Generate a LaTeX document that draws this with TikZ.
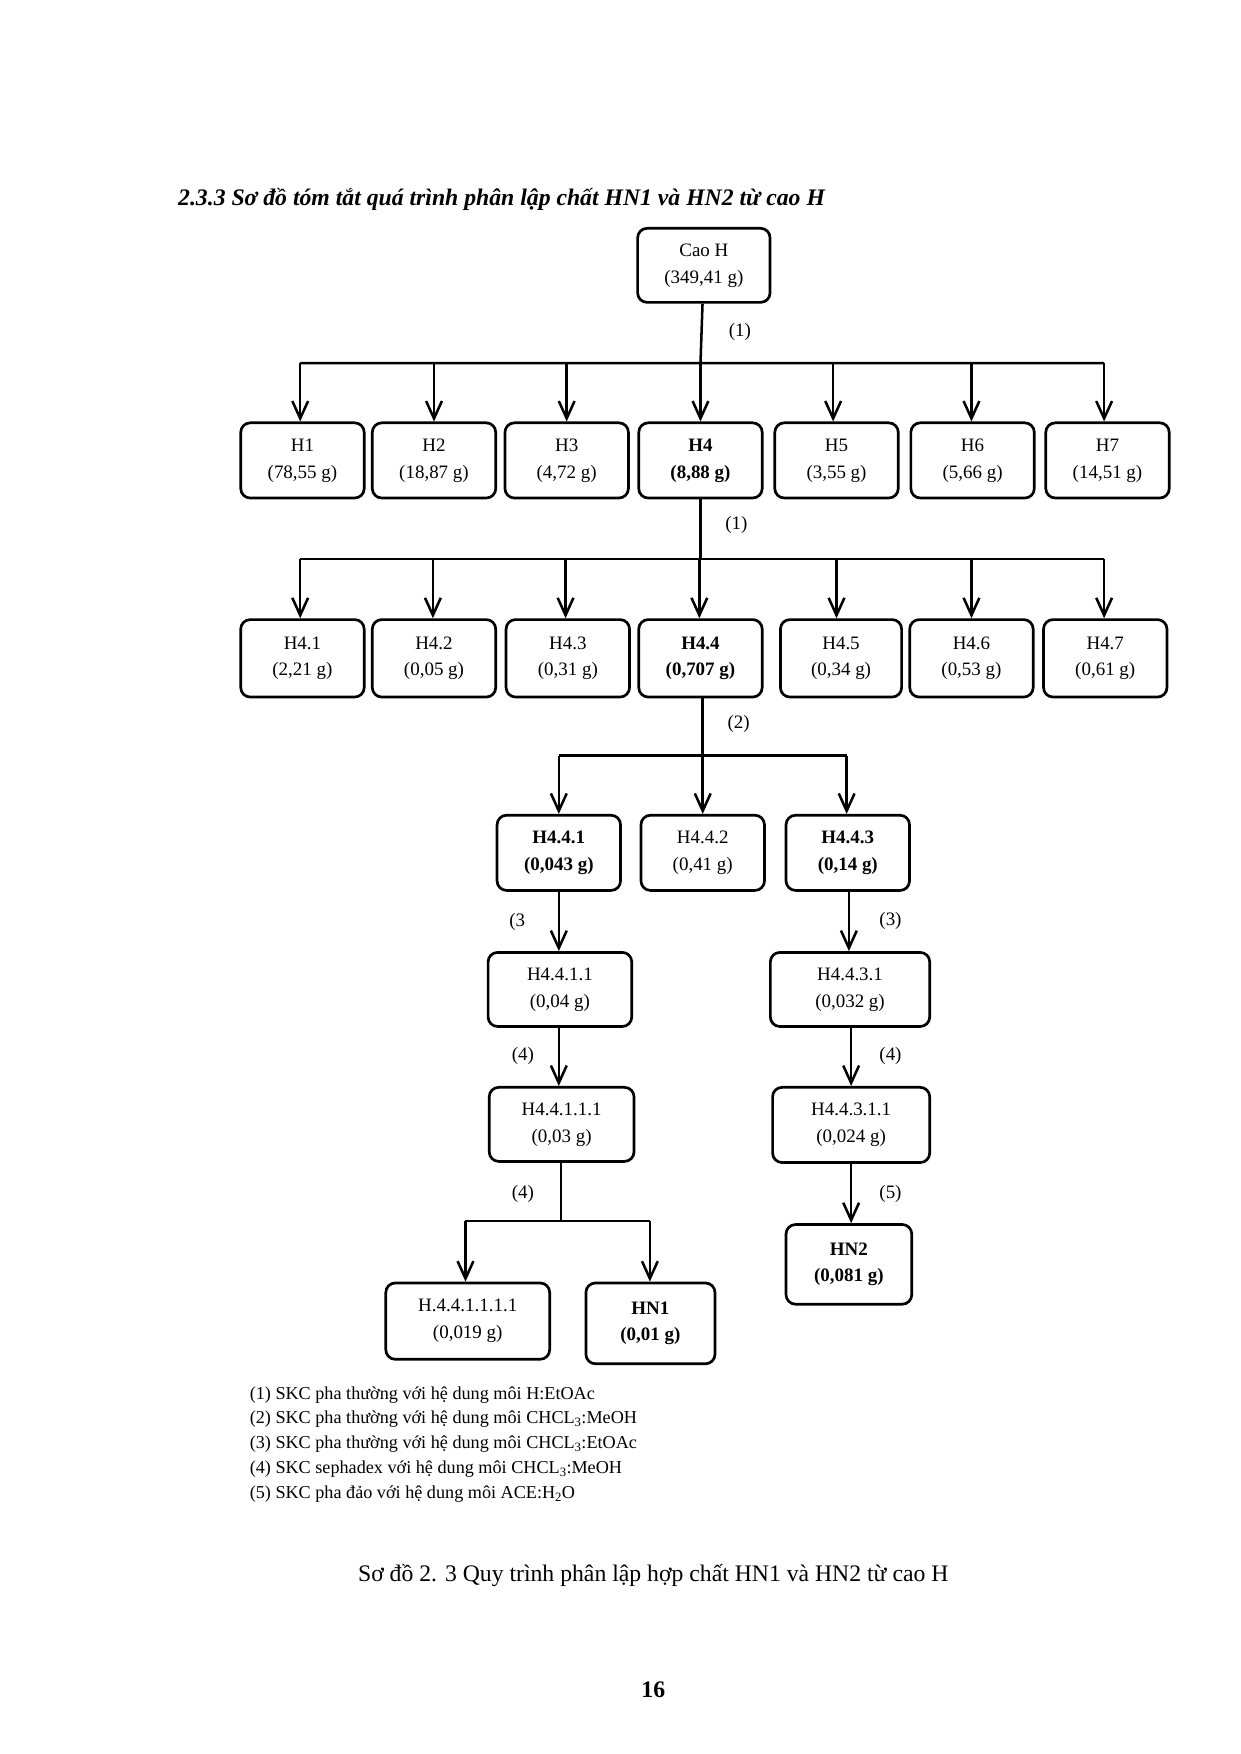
\documentclass[tikz,border=0pt]{standalone}
\usepackage{fontspec}
\setmainfont{Liberation Serif}
\usetikzlibrary{arrows.meta}
\newcommand{\bx}[6]{\node[box,minimum width={(#3-#2)*1.42pt},minimum height={(#5-#4)*1.42pt}] (#1) at ({(#2+#3)/2},{(#4+#5)/2}) {#6};}
\begin{document}
\begin{tikzpicture}[x=0.05cm,y=-0.05cm,
  box/.style={draw,line width=3.4pt,rounded corners=12pt,align=center,inner sep=0pt,font=\fontsize{24}{34}\selectfont},
  ln/.style={line width=3.2pt},
  ar/.style={ln,-{Straight Barb[length=22pt,width=20pt,line width=3.2pt]}},
  lb/.style={font=\fontsize{24}{30}\selectfont}]
\useasboundingbox (0,0) rectangle (1103,1560);
\node[anchor=west,font=\fontsize{30}{36}\selectfont\bfseries\itshape] (title) at (156,177) {2.3.3 Sơ đồ tóm tắt quá trình phân lập chất HN1 và HN2 từ cao H};
\bx{cao}{567}{685}{203}{269}{Cao H\\(349,41 g)}
\bx{h1}{214}{324}{376}{443}{H1\\(78,55 g)}
\bx{h2}{331}{441}{376}{443}{H2\\(18,87 g)}
\bx{h3}{449}{559}{376}{443}{H3\\(4,72 g)}
\bx{h4}{568}{678}{376}{443}{\textbf{H4}\\\textbf{(8,88 g)}}
\bx{h5}{689}{799}{376}{443}{H5\\(3,55 g)}
\bx{h6}{810}{920}{376}{443}{H6\\(5,66 g)}
\bx{h7}{930}{1040}{376}{443}{H7\\(14,51 g)}
\coordinate (b1) at (623,323);
\draw[ln] (cao) -- (b1) (267,323) -- (982,323);
\node[lb] (l1) at (658,295) {(1)};
\foreach \n/\x in {h1/267,h2/386,h3/504,h4/623,h5/741,h6/864,h7/982}{\coordinate (t\n) at (\x,323); \draw[ar] (t\n) -- (\n.north -| t\n);}
\bx{a1}{214}{324}{551}{620}{H4.1\\(2,21 g)}
\bx{a2}{331}{441}{551}{620}{H4.2\\(0,05 g)}
\bx{a3}{450}{560}{551}{620}{H4.3\\(0,31 g)}
\bx{a4}{568}{678}{551}{620}{\textbf{H4.4}\\\textbf{(0,707 g)}}
\bx{a5}{694}{802}{551}{620}{H4.5\\(0,34 g)}
\bx{a6}{809}{919}{551}{620}{H4.6\\(0,53 g)}
\bx{a7}{928}{1038}{551}{620}{H4.7\\(0,61 g)}
\coordinate (b2) at (623,497);
\draw[ln] (h4) -- (b2) (267,497) -- (982,497);
\node[lb] (l2) at (655,467) {(1)};
\foreach \n/\x in {a1/267,a2/385,a3/503,a4/622,a5/744,a6/864,a7/982}{\coordinate (t\n) at (\x,497); \draw[ar] (t\n) -- (\n.north -| t\n);}
\bx{c1}{442}{552}{725}{792}{\textbf{H4.4.1}\\\textbf{(0,043 g)}}
\bx{c2}{570}{680}{725}{792}{H4.4.2\\(0,41 g)}
\bx{c3}{699}{809}{725}{792}{\textbf{H4.4.3}\\\textbf{(0,14 g)}}
\coordinate (b3) at (625,672);
\draw[ln] (a4.south -| b3) -- (b3) (497,672) -- (753,672);
\node[lb] (l3) at (657,644) {(2)};
\foreach \n/\x in {c1/497,c2/625,c3/753}{\coordinate (t\n) at (\x,672); \draw[ar] (t\n) -- (\n.north -| t\n);}
\bx{d1}{434}{562}{847}{913}{H4.4.1.1\\(0,04 g)}
\bx{d2}{435}{564}{967}{1033}{H4.4.1.1.1\\(0,03 g)}
\bx{e1}{343}{489}{1141}{1209}{H.4.4.1.1.1.1\\(0,019 g)}
\bx{e2}{521}{636}{1141}{1213}{\textbf{HN1}\\\textbf{(0,01 g)}}
\bx{f1}{685}{827}{847}{913}{H4.4.3.1\\(0,032 g)}
\bx{f2}{687}{827}{967}{1034}{H4.4.3.1.1\\(0,024 g)}
\bx{f3}{699}{811}{1089}{1160}{\textbf{HN2}\\\textbf{(0,081 g)}}
\draw[ar] (c1.south -| 497,0) -- (d1.north -| 497,0);
\node[lb] (l4) at (460,820) {(3};
\draw[ar] (d1.south -| 497,0) -- (d2.north -| 497,0);
\node[lb] (l5) at (465,939) {(4)};
\coordinate (b4) at (499,1086);
\draw[ln] (d2.south -| b4) -- (b4) (414,1086) -- (578,1086);
\node[lb] (l6) at (465,1062) {(4)};
\coordinate (te1) at (414,1086); \coordinate (te2) at (578,1086);
\draw[ar] (te1) -- (e1.north -| te1);
\draw[ar] (te2) -- (e2.north -| te2);
\draw[ar] (c3.south -| 755,0) -- (f1.north -| 755,0);
\node[lb] (l7) at (792,819) {(3)};
\draw[ar] (f1.south -| 757,0) -- (f2.north -| 757,0);
\node[lb] (l8) at (792,939) {(4)};
\draw[ar] (f2.south -| 757,0) -- (f3.north -| 757,0);
\node[lb] (l9) at (792,1062) {(5)};
\node[anchor=north west,align=left,inner sep=0pt,font=\fontsize{23}{31.3}\selectfont] (leg) at (222,1233) {(1) SKC pha thường với hệ dung môi H:EtOAc\\
(2) SKC pha thường với hệ dung môi CHCL\textsubscript{3}:MeOH\\
(3) SKC pha thường với hệ dung môi CHCL\textsubscript{3}:EtOAc\\
(4) SKC sephadex với hệ dung môi CHCL\textsubscript{3}:MeOH\\
(5) SKC pha đảo với hệ dung môi ACE:H\textsubscript{2}O};
\node[font=\fontsize{30}{36}\selectfont] (cap) at (581,1401) {Sơ đồ 2. 3 Quy trình phân lập hợp chất HN1 và HN2 từ cao H};
\node[font=\fontsize{30}{36}\selectfont\bfseries] (pg) at (581,1503) {16};
\end{tikzpicture}
\end{document}
